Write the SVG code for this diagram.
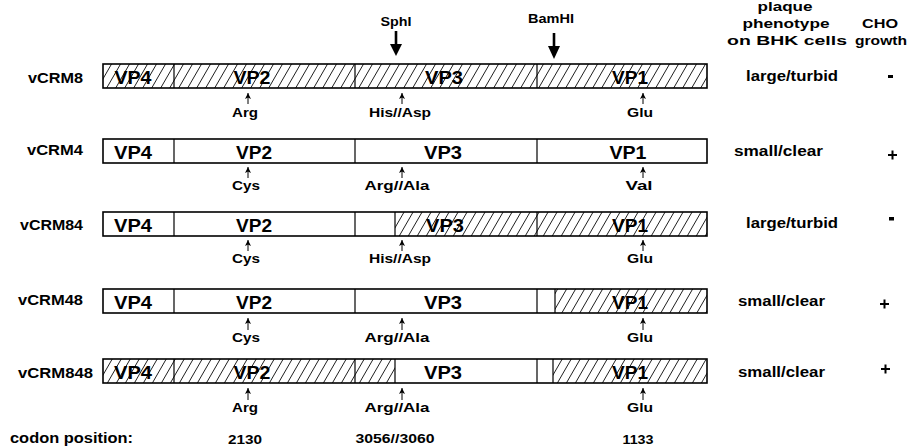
<svg xmlns="http://www.w3.org/2000/svg" width="914" height="448" viewBox="0 0 914 448">
<style>
text{font-family:"Liberation Sans",Arial,Helvetica,sans-serif;font-weight:bold;fill:#000}
.vp{font-size:18px;text-anchor:middle}
.nm{font-size:14.5px}
.aa{font-size:13px;text-anchor:middle}
.ph{font-size:14.5px}
.hd{font-size:13.5px;text-anchor:middle}
.bar{fill:none;stroke:#000;stroke-width:1.6}
.div{stroke:#000;stroke-width:1.2}
.sa{stroke:#000;stroke-width:1}
.big{stroke:#000;stroke-width:2.6}
</style>
<defs>
<pattern id="hatch" patternUnits="userSpaceOnUse" width="9" height="10" patternTransform="skewX(-30)">
<line x1="4.5" y1="0" x2="4.5" y2="10" stroke="#000" stroke-width="0.8"/>
</pattern>
<marker id="ah" markerUnits="userSpaceOnUse" markerWidth="7" markerHeight="6" refX="6" refY="3" orient="auto" viewBox="0 0 7 6">
<path d="M0,0 L6,3 L0,6 L1.5,3 Z" fill="#000"/>
</marker>
</defs>

<g id="header">
<text class="hd" x="396" y="26" textLength="31" lengthAdjust="spacingAndGlyphs">SphI</text>
<line class="big" x1="396" y1="31" x2="396" y2="46"/>
<polygon points="390,44 402,44 396,56" fill="#000"/>
<text class="hd" x="551" y="23" textLength="46" lengthAdjust="spacingAndGlyphs">BamHI</text>
<line class="big" x1="554" y1="33" x2="554" y2="48"/>
<polygon points="548,46 560,46 554,59" fill="#000"/>
<text class="hd" x="785" y="11" textLength="55" lengthAdjust="spacingAndGlyphs">plaque</text>
<text class="hd" x="786" y="28" textLength="87" lengthAdjust="spacingAndGlyphs">phenotype</text>
<text class="hd" x="787" y="45" textLength="120" lengthAdjust="spacingAndGlyphs">on BHK cells</text>
<text class="hd" x="880" y="28" textLength="36" lengthAdjust="spacingAndGlyphs">CHO</text>
<text class="hd" x="881" y="45" textLength="52" lengthAdjust="spacingAndGlyphs">growth</text>
</g>

<g id="vCRM8">
<text class="nm" x="28" y="83" textLength="55" lengthAdjust="spacingAndGlyphs">vCRM8</text>
<rect x="103" y="64" width="604" height="24" fill="url(#hatch)"/>
<rect class="bar" x="103" y="64" width="604" height="24"/>
<line class="div" x1="174" y1="64" x2="174" y2="88"/>
<line class="div" x1="355" y1="64" x2="355" y2="88"/>
<line class="div" x1="537" y1="64" x2="537" y2="88"/>
<text class="vp" x="133" y="84" textLength="37" lengthAdjust="spacingAndGlyphs">VP4</text>
<text class="vp" x="252" y="84" textLength="37" lengthAdjust="spacingAndGlyphs">VP2</text>
<text class="vp" x="444" y="84" textLength="38" lengthAdjust="spacingAndGlyphs">VP3</text>
<text class="vp" x="630" y="84" textLength="36" lengthAdjust="spacingAndGlyphs">VP1</text>
<text class="ph" x="746" y="81" textLength="92" lengthAdjust="spacingAndGlyphs">large/turbid</text>
<rect x="888" y="75" width="5" height="3" fill="#000"/>
</g>

<g id="vCRM4">
<text class="nm" x="27" y="155" textLength="56" lengthAdjust="spacingAndGlyphs">vCRM4</text>
<rect x="103" y="139" width="604" height="24" fill="#fff"/>
<rect class="bar" x="103" y="139" width="604" height="24"/>
<line class="div" x1="174" y1="139" x2="174" y2="163"/>
<line class="div" x1="355" y1="139" x2="355" y2="163"/>
<line class="div" x1="537" y1="139" x2="537" y2="163"/>
<text class="vp" x="133" y="159" textLength="38" lengthAdjust="spacingAndGlyphs">VP4</text>
<text class="vp" x="254" y="159" textLength="36" lengthAdjust="spacingAndGlyphs">VP2</text>
<text class="vp" x="443" y="159" textLength="38" lengthAdjust="spacingAndGlyphs">VP3</text>
<text class="vp" x="628" y="159" textLength="37" lengthAdjust="spacingAndGlyphs">VP1</text>
<text class="ph" x="734" y="156" textLength="89" lengthAdjust="spacingAndGlyphs">small/clear</text>
<path d="M888,155 h9 M892.5,150.5 v9" stroke="#000" stroke-width="2"/>
</g>

<g id="vCRM84">
<text class="nm" x="20" y="230" textLength="63" lengthAdjust="spacingAndGlyphs">vCRM84</text>
<rect x="395" y="212" width="312" height="24" fill="url(#hatch)"/>
<rect class="bar" x="103" y="212" width="604" height="24"/>
<line class="div" x1="174" y1="212" x2="174" y2="236"/>
<line class="div" x1="355" y1="212" x2="355" y2="236"/>
<line class="div" x1="395" y1="212" x2="395" y2="236"/>
<line class="div" x1="537" y1="212" x2="537" y2="236"/>
<text class="vp" x="133" y="232" textLength="38" lengthAdjust="spacingAndGlyphs">VP4</text>
<text class="vp" x="254" y="232" textLength="36" lengthAdjust="spacingAndGlyphs">VP2</text>
<text class="vp" x="445" y="232" textLength="38" lengthAdjust="spacingAndGlyphs">VP3</text>
<text class="vp" x="630" y="232" textLength="36" lengthAdjust="spacingAndGlyphs">VP1</text>
<text class="ph" x="746" y="228" textLength="92" lengthAdjust="spacingAndGlyphs">large/turbid</text>
<rect x="889" y="217" width="5" height="3.5" fill="#000"/>
</g>

<g id="vCRM48">
<text class="nm" x="18" y="305" textLength="65" lengthAdjust="spacingAndGlyphs">vCRM48</text>
<rect x="555" y="289" width="152" height="24" fill="url(#hatch)"/>
<rect class="bar" x="103" y="289" width="604" height="24"/>
<line class="div" x1="174" y1="289" x2="174" y2="313"/>
<line class="div" x1="355" y1="289" x2="355" y2="313"/>
<line class="div" x1="537" y1="289" x2="537" y2="313"/>
<line class="div" x1="555" y1="289" x2="555" y2="313"/>
<text class="vp" x="133" y="309" textLength="38" lengthAdjust="spacingAndGlyphs">VP4</text>
<text class="vp" x="254" y="309" textLength="36" lengthAdjust="spacingAndGlyphs">VP2</text>
<text class="vp" x="443" y="309" textLength="38" lengthAdjust="spacingAndGlyphs">VP3</text>
<text class="vp" x="630" y="309" textLength="36" lengthAdjust="spacingAndGlyphs">VP1</text>
<text class="ph" x="738" y="306" textLength="87" lengthAdjust="spacingAndGlyphs">small/clear</text>
<path d="M880,304 h9 M884.5,299.5 v9" stroke="#000" stroke-width="2"/>
</g>

<g id="vCRM848">
<text class="nm" x="18" y="378" textLength="75" lengthAdjust="spacingAndGlyphs">vCRM848</text>
<rect x="103" y="359" width="292" height="24" fill="url(#hatch)"/>
<rect x="553" y="359" width="154" height="24" fill="url(#hatch)"/>
<rect class="bar" x="103" y="359" width="604" height="24"/>
<line class="div" x1="174" y1="359" x2="174" y2="383"/>
<line class="div" x1="355" y1="359" x2="355" y2="383"/>
<line class="div" x1="395" y1="359" x2="395" y2="383"/>
<line class="div" x1="537" y1="359" x2="537" y2="383"/>
<line class="div" x1="553" y1="359" x2="553" y2="383"/>
<text class="vp" x="133" y="379" textLength="38" lengthAdjust="spacingAndGlyphs">VP4</text>
<text class="vp" x="252" y="379" textLength="37" lengthAdjust="spacingAndGlyphs">VP2</text>
<text class="vp" x="443" y="379" textLength="38" lengthAdjust="spacingAndGlyphs">VP3</text>
<text class="vp" x="630" y="379" textLength="36" lengthAdjust="spacingAndGlyphs">VP1</text>
<text class="ph" x="738" y="377" textLength="87" lengthAdjust="spacingAndGlyphs">small/clear</text>
<path d="M881,369 h9 M885.5,364.5 v9" stroke="#000" stroke-width="2"/>
</g>

<g id="connectors">
<line class="sa" x1="248" y1="104" x2="248" y2="93" marker-end="url(#ah)"/>
<line class="sa" x1="402" y1="104" x2="402" y2="93" marker-end="url(#ah)"/>
<line class="sa" x1="643" y1="104" x2="643" y2="93" marker-end="url(#ah)"/>
<line class="sa" x1="248" y1="178" x2="248" y2="167" marker-end="url(#ah)"/>
<line class="sa" x1="402" y1="178" x2="402" y2="167" marker-end="url(#ah)"/>
<line class="sa" x1="643" y1="178" x2="643" y2="167" marker-end="url(#ah)"/>
<line class="sa" x1="248" y1="251" x2="248" y2="240" marker-end="url(#ah)"/>
<line class="sa" x1="402" y1="251" x2="402" y2="240" marker-end="url(#ah)"/>
<line class="sa" x1="643" y1="251" x2="643" y2="240" marker-end="url(#ah)"/>
<line class="sa" x1="248" y1="330" x2="248" y2="318" marker-end="url(#ah)"/>
<line class="sa" x1="402" y1="330" x2="402" y2="318" marker-end="url(#ah)"/>
<line class="sa" x1="643" y1="330" x2="643" y2="318" marker-end="url(#ah)"/>
<line class="sa" x1="248" y1="400" x2="248" y2="388" marker-end="url(#ah)"/>
<line class="sa" x1="402" y1="400" x2="402" y2="388" marker-end="url(#ah)"/>
<line class="sa" x1="643" y1="400" x2="643" y2="388" marker-end="url(#ah)"/>
</g>

<g id="residues">
<text class="aa" x="245" y="117" textLength="26" lengthAdjust="spacingAndGlyphs">Arg</text>
<text class="aa" x="400" y="117" textLength="62" lengthAdjust="spacingAndGlyphs">His//Asp</text>
<text class="aa" x="640" y="117" textLength="26" lengthAdjust="spacingAndGlyphs">Glu</text>
<text class="aa" x="246" y="190" textLength="28" lengthAdjust="spacingAndGlyphs">Cys</text>
<text class="aa" x="397" y="190" textLength="65" lengthAdjust="spacingAndGlyphs">Arg//Ala</text>
<text class="aa" x="639" y="190" textLength="27" lengthAdjust="spacingAndGlyphs">Val</text>
<text class="aa" x="246" y="263" textLength="28" lengthAdjust="spacingAndGlyphs">Cys</text>
<text class="aa" x="400" y="263" textLength="62" lengthAdjust="spacingAndGlyphs">His//Asp</text>
<text class="aa" x="640" y="263" textLength="26" lengthAdjust="spacingAndGlyphs">Glu</text>
<text class="aa" x="246" y="342" textLength="28" lengthAdjust="spacingAndGlyphs">Cys</text>
<text class="aa" x="397" y="342" textLength="65" lengthAdjust="spacingAndGlyphs">Arg//Ala</text>
<text class="aa" x="640" y="342" textLength="26" lengthAdjust="spacingAndGlyphs">Glu</text>
<text class="aa" x="245" y="412" textLength="26" lengthAdjust="spacingAndGlyphs">Arg</text>
<text class="aa" x="397" y="412" textLength="65" lengthAdjust="spacingAndGlyphs">Arg//Ala</text>
<text class="aa" x="640" y="412" textLength="26" lengthAdjust="spacingAndGlyphs">Glu</text>
</g>

<g id="codons">
<text class="ph" x="10" y="443" textLength="123" lengthAdjust="spacingAndGlyphs">codon position:</text>
<text class="aa" x="245" y="444" textLength="34" lengthAdjust="spacingAndGlyphs">2130</text>
<text class="aa" x="395" y="443" textLength="79" lengthAdjust="spacingAndGlyphs">3056//3060</text>
<text class="aa" x="638" y="444" textLength="31" lengthAdjust="spacingAndGlyphs">1133</text>
</g>
</svg>
